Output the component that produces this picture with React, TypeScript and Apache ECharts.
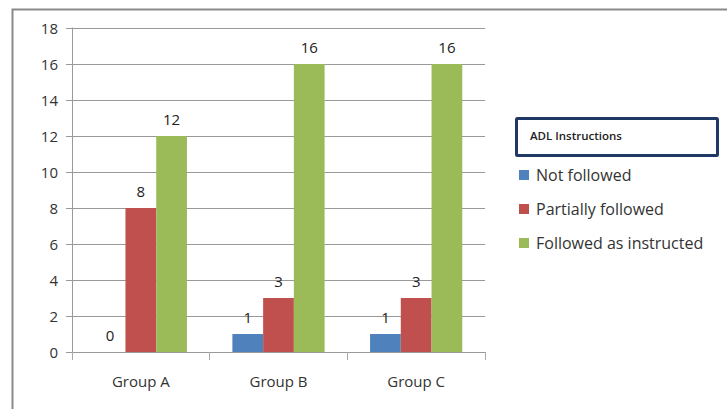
import React, { useEffect, useRef } from "react";
import * as echarts from "echarts";

const categories = ["Group A", "Group B", "Group C"];
const seriesNames = ["Not followed", "Partially followed", "Followed as instructed"];
const notFollowed = [0, 1, 1];
const partiallyFollowed = [8, 3, 3];
const followedAsInstructed = [12, 16, 16];
const colors = ["#4F81BD", "#C0504D", "#9BBB59"];
const legendTitle = "ADL Instructions";

const FONT = "'Open Sans', 'Noto Sans', sans-serif";

export default function App() {
  const ref = useRef<HTMLDivElement>(null);
  useEffect(() => {
    if (!ref.current) return;
    const chart = echarts.init(ref.current, undefined, { renderer: "svg" });
    const values = [notFollowed, partiallyFollowed, followedAsInstructed];
    chart.setOption({
      animation: false,
      backgroundColor: "#ffffff",
      textStyle: { fontFamily: FONT },
      grid: { left: 72, top: 28, width: 413, height: 324, containLabel: false },
      xAxis: {
        type: "category",
        data: categories,
        axisLine: { show: false },
        axisTick: { show: true, length: 8, lineStyle: { color: "#aaa" } },
        axisLabel: { fontSize: 15, color: "#333", margin: 21, fontFamily: FONT },
      },
      yAxis: {
        type: "value",
        min: 0,
        max: 18,
        interval: 2,
        axisLine: { show: true, lineStyle: { color: "#999", width: 1 } },
        axisTick: { show: true, length: 6, lineStyle: { color: "#999" } },
        splitLine: { show: true, lineStyle: { color: "#999", width: 1 } },
        axisLabel: { fontSize: 15, color: "#333", margin: 14, fontFamily: FONT },
      },
      legend: {
        orient: "vertical",
        left: 514,
        top: 162,
        itemWidth: 10,
        itemHeight: 10,
        itemGap: 18,
        icon: "rect",
        textStyle: { fontSize: 16, color: "#333", fontFamily: FONT, padding: [0, 0, 0, 2] },
        data: seriesNames,
      },
      graphic: [
        {
          type: "rect",
          shape: { x: 0, y: 0, width: 3000, height: 3000 },
          left: 10,
          top: 7,
          style: { fill: "none", stroke: "#8a8a8a", lineWidth: 2 },
          silent: true,
        },
        {
          type: "rect",
          left: 515,
          top: 117,
          shape: { width: 201, height: 37, r: 1 },
          style: { fill: "#ffffff", stroke: "#1F3864", lineWidth: 3 },
        },
        {
          type: "text",
          left: 530,
          top: 129,
          style: {
            text: legendTitle,
            font: "600 11.5px " + FONT,
            fill: "#222",
          },
        },
      ],
      series: seriesNames.map((name, i) => ({
        name,
        type: "bar",
        data: values[i],
        barGap: "0%",
        barCategoryGap: "33%",
        itemStyle: { color: colors[i] },
        label: {
          show: true,
          position: "top",
          distance: 10,
          fontSize: 15,
          color: "#222",
          fontFamily: FONT,
        },
      })),
    });
    return () => chart.dispose();
  }, []);
  return <div ref={ref} style={{ width: 727, height: 409, position: "absolute", left: 0, top: 0 }} />;
}
